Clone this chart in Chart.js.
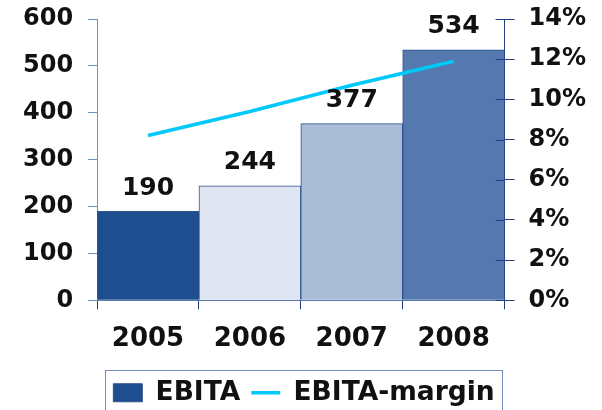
<!DOCTYPE html>
<html>
<head>
<meta charset="utf-8">
<script src="https://cdn.jsdelivr.net/npm/chart.js@4.4.0/dist/chart.umd.min.js"></script>
<style>
    html, body { margin: 0; padding: 0; background: #ffffff; }
    #wrap { width: 602px; height: 410px; }
</style>
</head>
<body>
<div id="wrap"><canvas id="myChart" width="602" height="410"></canvas></div>
<script>
        // values
        var years = ['2005', '2006', '2007', '2008'];
        var ebita = [190, 244, 377, 534];
        var ebitaMargin = [8.2, 9.4, 10.7, 11.9];
        var barColors = ['#1d4e8f', '#dfe6f1', '#aabdd7', '#5578ae'];
        var leftTicks = [0, 100, 200, 300, 400, 500, 600];
        var rightTicks = [0, 2, 4, 6, 8, 10, 12, 14];

        var yFont = { family: 'DejaVu Sans', size: 24, weight: 'bold' };
        var xFont = { family: 'DejaVu Sans', size: 26, weight: 'bold' };
        var legendFont = { family: 'DejaVu Sans', size: 26.5, weight: 'bold' };

        // value labels above the bars
        const barLabels = {
            id: 'barLabels',
            afterDatasetsDraw(chart) {
                var ctx = chart.ctx;
                var meta = chart.getDatasetMeta(0);
                ctx.save();
                ctx.font = 'bold 25px "DejaVu Sans"';
                ctx.fillStyle = '#111111';
                ctx.textAlign = 'center';
                ctx.textBaseline = 'middle';
                meta.data.forEach(function (bar, i) {
                    ctx.fillText(String(ebita[i]), bar.x, bar.y - 23);
                });
                ctx.restore();
            }
        };

        // right axis ticks cross the axis line, and a frame round the legend
        const extras = {
            id: 'extras',
            afterDraw(chart) {
                var ctx = chart.ctx;
                var y1 = chart.scales.y1;
                ctx.save();
                ctx.strokeStyle = '#1f3f7f';
                ctx.lineWidth = 1;
                ctx.beginPath();
                y1.ticks.forEach(function (t) {
                    var py = Math.round(y1.getPixelForValue(t.value)) + 0.5;
                    ctx.moveTo(y1.left - 9, py);
                    ctx.lineTo(y1.left, py);
                });
                ctx.stroke();

                var lg = chart.legend;
                if (lg && lg.legendHitBoxes.length) {
                    var boxes = lg.legendHitBoxes;
                    var last = boxes[boxes.length - 1];
                    var x0 = boxes[0].left - 8;
                    var x1 = last.left + last.width + 8;
                    ctx.strokeStyle = '#6f8fc0';
                    ctx.strokeRect(Math.round(x0) + 0.5, Math.round(lg.top + 1) + 0.5, Math.round(x1 - x0), 60);
                }
                ctx.restore();
            }
        };

        // no extra room above/below the value axes: layout padding sets it
        function trimAxis(axis) {
            axis.paddingTop = 0;
            axis.paddingBottom = 0;
        }

        var ctx = document.getElementById('myChart').getContext('2d');
        var comboChart = new Chart(ctx, {
            type: 'bar',
            data: {
                labels: years,
                datasets: [
                    {
                        label: 'EBITA',
                        data: ebita,
                        backgroundColor: barColors,
                        borderColor: '#2f528c',
                        borderWidth: 1,
                        categoryPercentage: 1.0,
                        barPercentage: 1.0,
                        pointStyle: 'rect',
                        yAxisID: 'y',
                        order: 1
                    },
                    {
                        type: 'line',
                        label: 'EBITA-margin',
                        data: ebitaMargin,
                        borderColor: '#00c8f8',
                        backgroundColor: '#00c8f8',
                        borderWidth: 3.5,
                        pointRadius: 0,
                        pointStyle: 'line',
                        tension: 0,
                        yAxisID: 'y1',
                        order: 0
                    }
                ]
            },
            options: {
                responsive: false,
                animation: false,
                layout: {
                    padding: { left: 8, right: 2, top: 19, bottom: -6 }
                },
                plugins: {
                    tooltip: { enabled: false },
                    legend: {
                        position: 'bottom',
                        labels: {
                            usePointStyle: true,
                            pointStyleWidth: 29,
                            boxHeight: 18,
                            padding: 11,
                            color: '#111111',
                            font: legendFont,
                            sort: (a, b) => a.datasetIndex - b.datasetIndex
                        }
                    }
                },
                scales: {
                    x: {
                        offset: true,
                        grid: {
                            offset: true,
                            drawOnChartArea: false,
                            drawTicks: true,
                            tickLength: 9,
                            color: '#1f3f7f'
                        },
                        border: { color: '#5a79b0', width: 1 },
                        ticks: {
                            color: '#111111',
                            font: xFont,
                            padding: 14
                        }
                    },
                    y: {
                        position: 'left',
                        min: 0,
                        max: 600,
                        afterBuildTicks: function (axis) {
                            axis.ticks = leftTicks.map(v => ({ value: v }));
                        },
                        afterFit: trimAxis,
                        grid: {
                            drawOnChartArea: false,
                            tickLength: 9,
                            color: '#6f8fc0'
                        },
                        border: { color: '#6f8fc0', width: 1 },
                        ticks: {
                            color: '#111111',
                            font: yFont,
                            padding: 15
                        }
                    },
                    y1: {
                        position: 'right',
                        min: 0,
                        max: 14,
                        afterBuildTicks: function (axis) {
                            axis.ticks = rightTicks.map(v => ({ value: v }));
                        },
                        afterFit: trimAxis,
                        grid: {
                            drawOnChartArea: false,
                            tickLength: 10,
                            color: '#1f3f7f'
                        },
                        border: { color: '#1f3f7f', width: 1 },
                        ticks: {
                            color: '#111111',
                            font: yFont,
                            padding: 14,
                            callback: function (value) { return value + '%'; }
                        }
                    }
                }
            },
            plugins: [barLabels, extras]
        });
</script>
</body>
</html>
